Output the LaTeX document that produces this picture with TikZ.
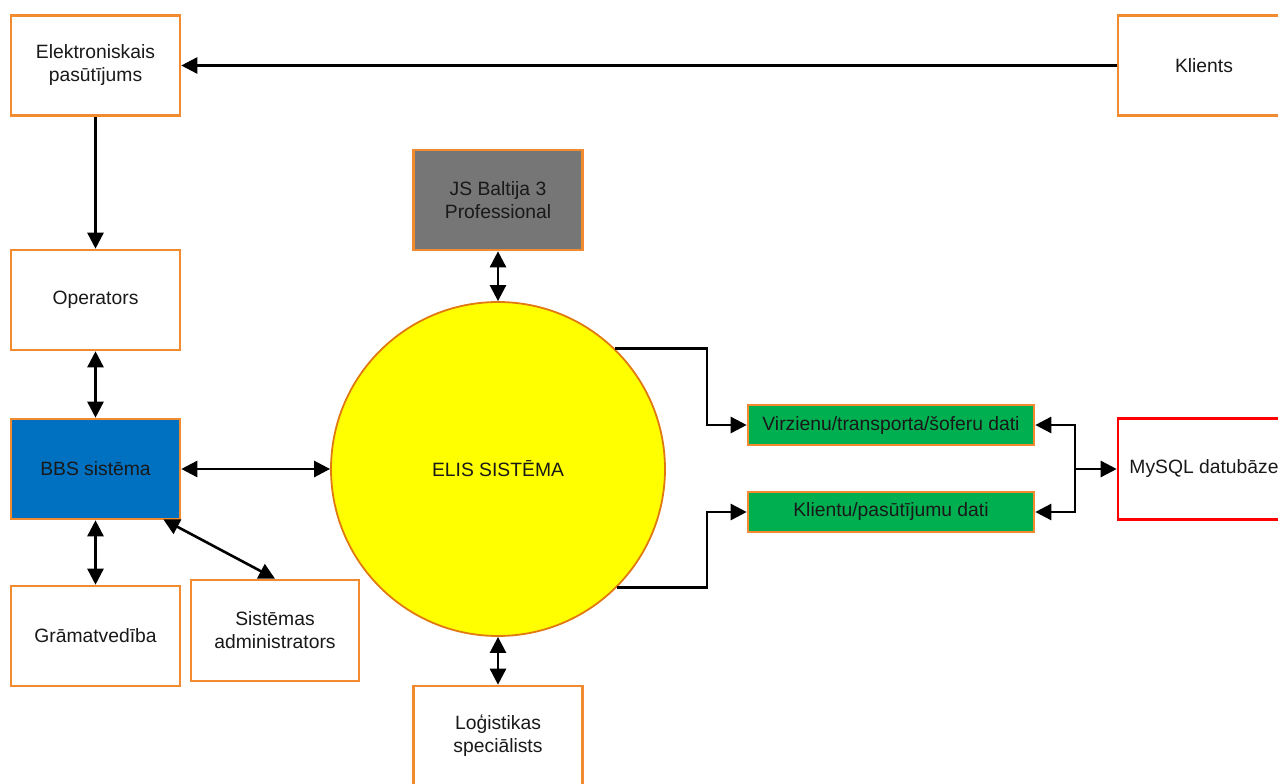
\documentclass[tikz,border=0pt]{standalone}
\usepackage{fontspec}
\setmainfont{Liberation Sans}
\usetikzlibrary{arrows.meta,calc}
\definecolor{boxorange}{HTML}{F28A30}
\definecolor{rimorange}{HTML}{E07A10}
\definecolor{bbsblue}{HTML}{0070C0}
\definecolor{jsgray}{HTML}{767676}
\definecolor{datagreen}{HTML}{00B050}
\definecolor{sunyellow}{HTML}{FFFF00}
\begin{document}
\begin{tikzpicture}[x=1pt,y=1pt,
  font=\fontsize{19.3}{23}\selectfont,
  box/.style={draw=boxorange,line width=2.6pt,fill=white,align=center,
    minimum width=169pt,minimum height=100pt,inner sep=0pt,text=black!90},
  databox/.style={box,fill=datagreen,minimum width=286pt,minimum height=40pt},
  tip/.tip={Triangle[length=16pt,width=16pt]},
  arr/.style={line width=2.6pt,-tip},
  biarr/.style={line width=2.6pt,tip-tip}]
\useasboundingbox (0,0) rectangle (1278,-784);
\clip (0,0) rectangle (1278,-784);

% actors and systems
\node[box] (ep) at (95.5,-65.5) {Elektroniskais\\pasūtījums};
\node[box,minimum width=172pt] (kl) at (1204,-65.5) {Klients};
\node[box,fill=jsgray] (js) at (498,-200) {JS Baltija 3\\Professional};
\node[box] (op) at (95.5,-300) {Operators};
\node[box,fill=bbsblue] (bbs) at (95.5,-469) {BBS sistēma};
\node[box] (gr) at (95.5,-636) {Grāmatvedība};
\node[box,minimum width=168pt,minimum height=101pt] (adm) at (275,-630.5) {Sistēmas\\administrators};
\node[box] (lg) at (498,-736) {Loģistikas\\speciālists};
\node[circle,draw=rimorange,line width=1.8pt,fill=sunyellow,minimum size=334pt,inner sep=0pt,text=black!90] (elis) at (498,-469) {ELIS SISTĒMA};

% data stores
\node[databox] (vd) at (891,-425) {Virzienu/transporta/šoferu dati};
\node[databox] (kd) at (891,-512) {Klientu/pasūtījumu dati};
\node[box,draw=red,minimum width=172pt,minimum height=101pt] (db) at (1204,-469) {MySQL datubāze};

% routing points
\coordinate (xb) at (707,0);
\coordinate (jn) at (1075,-469);

% connectors
\draw[arr] (kl.west) -- (ep.east);
\draw[arr] (ep.south) -- (op.north);
\draw[biarr] (op.south) -- (bbs.north);
\draw[biarr] (bbs.south) -- (gr.north);
\draw[biarr] (bbs.east) -- (elis.west);
\draw[biarr] ($(bbs.south east)+(-18,1)$) -- (adm.north);
\draw[biarr] (js.south) -- (elis.north);
\draw[biarr] (elis.south) -- (lg.north);
\draw[arr] (elis.46) -- (elis.46 -| xb) |- (vd.west);
\draw[arr] (elis.-45) -- (elis.-45 -| xb) |- (kd.west);
\draw[arr] (jn) |- (vd.east);
\draw[arr] (jn) |- (kd.east);
\draw[arr] (jn) -- (db.west);
\end{tikzpicture}
\end{document}
